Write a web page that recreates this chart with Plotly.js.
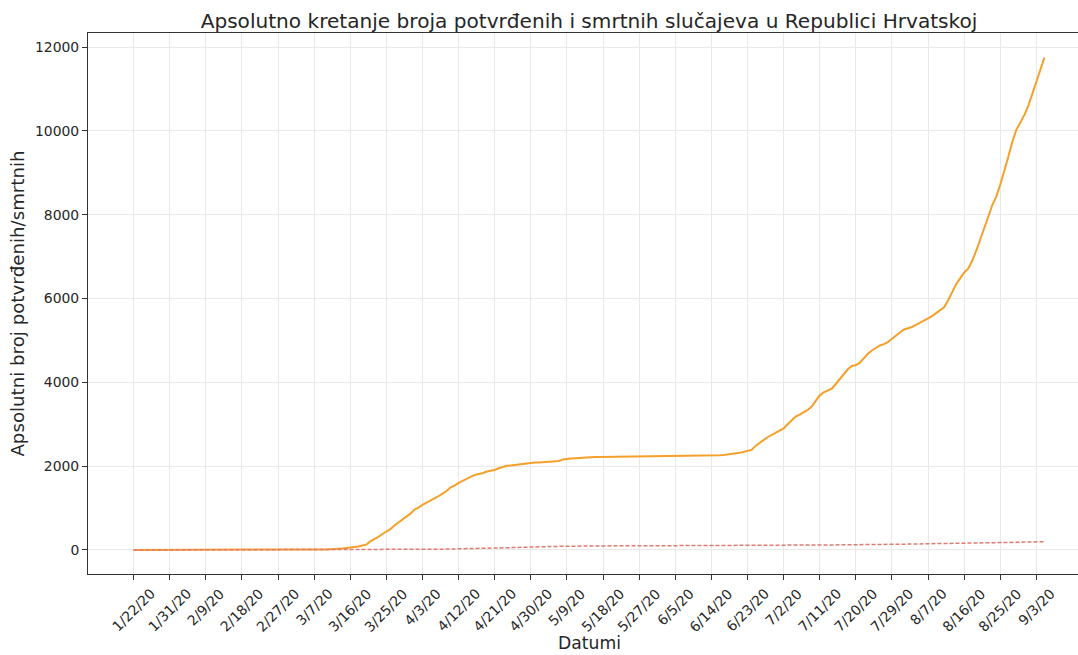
<!DOCTYPE html>
<html><head><meta charset="utf-8">
<script src="https://cdn.plot.ly/plotly-3.0.1.min.js"></script>
<style>html,body{margin:0;padding:0;overflow:hidden;background:#fff}#chart{width:1100px;height:655px}</style>
</head><body><div id="chart"></div>
<script>
const dates = [
"1/22/20","1/23/20","1/24/20","1/25/20","1/26/20","1/27/20","1/28/20","1/29/20","1/30/20","1/31/20",
"2/1/20","2/2/20","2/3/20","2/4/20","2/5/20","2/6/20","2/7/20","2/8/20","2/9/20","2/10/20","2/11/20","2/12/20","2/13/20","2/14/20","2/15/20","2/16/20","2/17/20","2/18/20","2/19/20","2/20/20","2/21/20","2/22/20","2/23/20","2/24/20","2/25/20","2/26/20","2/27/20","2/28/20","2/29/20",
"3/1/20","3/2/20","3/3/20","3/4/20","3/5/20","3/6/20","3/7/20","3/8/20","3/9/20","3/10/20","3/11/20","3/12/20","3/13/20","3/14/20","3/15/20","3/16/20","3/17/20","3/18/20","3/19/20","3/20/20","3/21/20","3/22/20","3/23/20","3/24/20","3/25/20","3/26/20","3/27/20","3/28/20","3/29/20","3/30/20","3/31/20",
"4/1/20","4/2/20","4/3/20","4/4/20","4/5/20","4/6/20","4/7/20","4/8/20","4/9/20","4/10/20","4/11/20","4/12/20","4/13/20","4/14/20","4/15/20","4/16/20","4/17/20","4/18/20","4/19/20","4/20/20","4/21/20","4/22/20","4/23/20","4/24/20","4/25/20","4/26/20","4/27/20","4/28/20","4/29/20","4/30/20",
"5/1/20","5/2/20","5/3/20","5/4/20","5/5/20","5/6/20","5/7/20","5/8/20","5/9/20","5/10/20","5/11/20","5/12/20","5/13/20","5/14/20","5/15/20","5/16/20","5/17/20","5/18/20","5/19/20","5/20/20","5/21/20","5/22/20","5/23/20","5/24/20","5/25/20","5/26/20","5/27/20","5/28/20","5/29/20","5/30/20","5/31/20",
"6/1/20","6/2/20","6/3/20","6/4/20","6/5/20","6/6/20","6/7/20","6/8/20","6/9/20","6/10/20","6/11/20","6/12/20","6/13/20","6/14/20","6/15/20","6/16/20","6/17/20","6/18/20","6/19/20","6/20/20","6/21/20","6/22/20","6/23/20","6/24/20","6/25/20","6/26/20","6/27/20","6/28/20","6/29/20","6/30/20",
"7/1/20","7/2/20","7/3/20","7/4/20","7/5/20","7/6/20","7/7/20","7/8/20","7/9/20","7/10/20","7/11/20","7/12/20","7/13/20","7/14/20","7/15/20","7/16/20","7/17/20","7/18/20","7/19/20","7/20/20","7/21/20","7/22/20","7/23/20","7/24/20","7/25/20","7/26/20","7/27/20","7/28/20","7/29/20","7/30/20","7/31/20",
"8/1/20","8/2/20","8/3/20","8/4/20","8/5/20","8/6/20","8/7/20","8/8/20","8/9/20","8/10/20","8/11/20","8/12/20","8/13/20","8/14/20","8/15/20","8/16/20","8/17/20","8/18/20","8/19/20","8/20/20","8/21/20","8/22/20","8/23/20","8/24/20","8/25/20","8/26/20","8/27/20","8/28/20","8/29/20","8/30/20","8/31/20",
"9/1/20","9/2/20","9/3/20","9/4/20","9/5/20"
];

const confirmed = [
0,0,0,0,0,0,0,0,0,0,
0,0,0,0,0,0,0,0,0,0,0,0,0,0,0,0,0,0,0,0,0,0,0,0,1,3,3,5,7,
7,7,9,10,10,11,12,12,12,14,19,19,32,38,49,57,65,81,105,128,206,254,315,382,442,495,586,657,713,790,867,
963,1011,1079,1126,1182,1222,1282,1343,1407,1495,1534,1600,1650,1704,1741,1791,1814,1832,1871,1881,1908,1950,1981,2009,2016,2030,2039,2047,2062,2076,
2085,2088,2096,2101,2112,2119,2125,2161,2176,2182,2187,2196,2205,2207,2211,2216,2221,2222,2224,2226,2228,2232,2234,2237,2243,2243,2244,2244,2244,2245,2246,
2246,2246,2246,2246,2247,2247,2247,2247,2247,2249,2249,2249,2252,2254,2258,2262,2269,2280,2283,2299,2317,2336,2366,2388,2483,2560,2620,2690,2740,2790,
2840,2900,3000,3100,3180,3230,3280,3340,3420,3550,3690,3760,3800,3850,3960,4070,4180,4310,4390,4410,4470,4580,4680,4760,4830,4880,4910,4960,5040,5110,5190,
5260,5290,5320,5370,5420,5460,5510,5580,5650,5710,5790,5960,6150,6340,6480,6620,6710,6900,7140,7400,7650,7950,8230,8430,8720,9030,9380,9740,10030,10200,10380,
10600,10900,11200,11480,11750
];

const deaths = [
0,0,0,0,0,0,0,0,0,0,
0,0,0,0,0,0,0,0,0,0,0,0,0,0,0,0,0,0,0,0,0,0,0,0,0,0,0,0,0,
0,0,0,0,0,0,0,0,0,0,0,0,0,0,0,0,0,1,1,1,1,1,1,1,3,3,3,4,6,6,6,
7,7,7,12,15,16,18,19,20,21,21,23,25,30,33,36,36,39,43,47,48,50,52,54,56,60,63,67,69,73,
75,75,79,80,83,85,86,89,90,91,93,94,95,96,96,97,97,98,98,99,99,100,101,101,101,101,102,103,103,103,103,
103,103,103,103,104,104,104,104,104,104,106,106,106,106,106,106,106,106,107,107,107,107,107,107,107,107,107,107,107,107,
107,108,108,109,110,111,113,113,115,116,117,119,119,120,120,122,123,123,125,126,127,127,128,129,131,131,134,134,136,138,139,
139,141,142,144,145,146,148,149,150,151,152,154,156,158,160,162,164,165,166,167,169,171,172,174,176,178,180,181,183,185,188,
190,192,193,195,197
];

const tickLabels = ["1/22/20","1/31/20","2/9/20","2/18/20","2/27/20","3/7/20","3/16/20","3/25/20","4/3/20","4/12/20","4/21/20","4/30/20","5/9/20","5/18/20","5/27/20","6/5/20","6/14/20","6/23/20","7/2/20","7/11/20","7/20/20","7/29/20","8/7/20","8/16/20","8/25/20","9/3/20"];
const yTicks = [0,2000,4000,6000,8000,10000,12000];

const FONT = "DejaVu Sans, sans-serif";
const txt = "#262626";

const traces = [
  {x: dates, y: confirmed, type: "scatter", mode: "lines", name: "Potvrđeni",
   line: {color: "#f5a02a", width: 2}},
  {x: dates, y: deaths, type: "scatter", mode: "lines", name: "Smrtni",
   line: {color: "#e07a70", width: 1.5, dash: "4px,2px"}}
];

// x tick labels centred on their ticks (rotated 45°)
const tickAnnotations = tickLabels.map(t => ({
  x: t, xref: "x", y: 0, yref: "paper", yshift: -8.5,
  xanchor: "center", yanchor: "top", textangle: -45, showarrow: false,
  text: t, font: {family: FONT, size: 13.9, color: txt}
}));

const layout = {
  width: 1100, height: 655,
  margin: {l: 88, r: 10, t: 33, b: 81},
  paper_bgcolor: "#fff", plot_bgcolor: "#fff",
  showlegend: false,
  font: {family: FONT, color: txt},
  title: {text: "Apsolutno kretanje broja potvrđenih i smrtnih slučajeva u Republici Hrvatskoj",
          font: {family: FONT, size: 20.1, color: txt},
          x: 0.5, xref: "paper", xanchor: "center", y: 1 - 21/655, yref: "container", yanchor: "middle"},
  xaxis: {
    type: "category", range: [-11.35, dates.length - 1 + 11.35],
    tickvals: tickLabels, ticktext: tickLabels, showticklabels: false,
    ticks: "outside", ticklen: 5, tickwidth: 1, tickcolor: "#333",
    showgrid: true, gridcolor: "#e9e9e9", gridwidth: 1,
    showline: true, mirror: true, linecolor: "#333", linewidth: 1, zeroline: false,
    automargin: false
  },
  yaxis: {
    range: [-573, 12334], tickvals: yTicks, tickformat: "d",
    ticks: "outside", ticklen: 5, tickwidth: 1, tickcolor: "#333",
    showgrid: true, gridcolor: "#e9e9e9", gridwidth: 1,
    showline: true, mirror: true, linecolor: "#333", linewidth: 1, zeroline: false,
    tickfont: {family: FONT, size: 13.9, color: txt},
    title: {text: "Apsolutni broj potvrđenih/smrtnih", font: {family: FONT, size: 18.2, color: txt}, standoff: 5},
    automargin: false
  },
  annotations: tickAnnotations.concat([
    {text: "Datumi", x: 0.5, xref: "paper", xanchor: "center", y: -(643 - 574) / 541, yref: "paper", yanchor: "middle",
     showarrow: false, font: {family: FONT, size: 17.2, color: txt}}
  ])
};

Plotly.newPlot("chart", traces, layout, {displayModeBar: false, staticPlot: true});
</script>
</body></html>
